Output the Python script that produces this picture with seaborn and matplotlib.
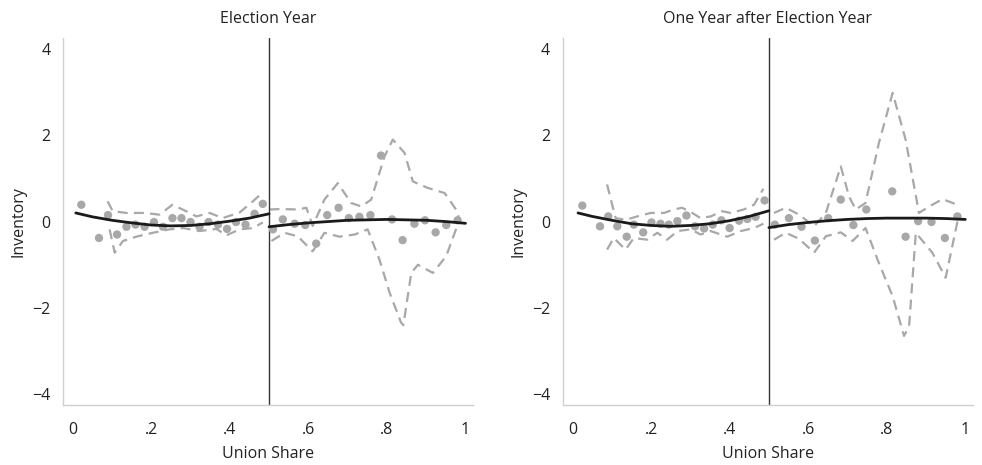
import numpy as np
import pandas as pd
import matplotlib
matplotlib.use('Agg')
import matplotlib.pyplot as plt
import seaborn as sns

sns.set_style("white")
plt.rcParams['font.family'] = ['Open Sans', 'DejaVu Sans']
plt.rcParams['axes.unicode_minus'] = True

# ---- Panel 1: Election Year ----
e_bin_x_lo = [0.022, 0.067, 0.09, 0.113, 0.137, 0.16, 0.183, 0.207, 0.23, 0.254,
              0.277, 0.30, 0.323, 0.346, 0.37, 0.393, 0.416, 0.44, 0.463, 0.484]
e_bin_y_lo = [0.39, -0.38, 0.15, -0.30, -0.12, -0.07, -0.12, -0.01, -0.12, 0.08,
              0.08, -0.01, -0.12, -0.01, -0.07, -0.17, -0.01, -0.07, 0.18, 0.41]
e_bin_x_hi = [0.51, 0.535, 0.565, 0.592, 0.62, 0.648, 0.677, 0.703, 0.73, 0.758,
              0.785, 0.813, 0.84, 0.87, 0.897, 0.924, 0.951, 0.98]
e_bin_y_hi = [-0.18, 0.05, -0.05, -0.08, -0.51, 0.15, 0.32, 0.08, 0.11, 0.15,
              1.53, 0.05, -0.43, -0.05, 0.03, -0.25, -0.08, 0.03]

e_up_x_lo = [0.089, 0.102, 0.137, 0.183, 0.221, 0.254, 0.289, 0.315, 0.349, 0.382, 0.425, 0.459, 0.484]
e_up_y_lo = [0.47, 0.24, 0.20, 0.20, 0.16, 0.39, 0.24, 0.12, 0.20, 0.08, 0.21, 0.47, 0.68]
e_dn_x_lo = [0.094, 0.107, 0.128, 0.162, 0.204, 0.247, 0.281, 0.323, 0.366, 0.391, 0.425, 0.459, 0.484]
e_dn_y_lo = [-0.18, -0.72, -0.45, -0.35, -0.26, -0.18, -0.15, -0.22, -0.17, -0.32, -0.18, -0.15, -0.02]
e_up_x_hi = [0.501, 0.531, 0.573, 0.595, 0.611, 0.641, 0.675, 0.709, 0.735, 0.76, 0.794,
             0.815, 0.845, 0.866, 0.904, 0.947, 0.976, 0.985]
e_up_y_hi = [0.28, 0.29, 0.28, 0.32, -0.10, 0.51, 0.89, 0.43, 0.35, 0.51, 1.51,
             1.90, 1.59, 0.93, 0.78, 0.66, 0.28, 0.05]
e_dn_x_hi = [0.506, 0.539, 0.573, 0.611, 0.641, 0.679, 0.718, 0.751, 0.781, 0.807,
             0.836, 0.842, 0.862, 0.879, 0.917, 0.951, 0.979]
e_dn_y_hi = [-0.45, -0.26, -0.34, -0.69, -0.26, -0.35, -0.30, -0.18, -0.88, -1.65,
             -2.34, -2.40, -1.19, -1.00, -1.19, -0.80, -0.10]

e_fit_x_lo = [0.008, 0.05, 0.1, 0.15, 0.2, 0.25, 0.3, 0.35, 0.4, 0.45, 0.5]
e_fit_y_lo = [0.20, 0.11, 0.03, -0.03, -0.08, -0.10, -0.09, -0.05, 0.01, 0.08, 0.18]
e_fit_x_hi = [0.5, 0.55, 0.6, 0.65, 0.7, 0.75, 0.8, 0.85, 0.9, 0.95, 1.0]
e_fit_y_hi = [-0.12, -0.07, -0.03, 0.00, 0.03, 0.04, 0.05, 0.04, 0.03, 0.00, -0.04]

# ---- Panel 2: One Year after Election Year ----
a_bin_x_lo = [0.025, 0.07, 0.091, 0.114, 0.138, 0.156, 0.18, 0.201, 0.224, 0.245, 0.267,
              0.29, 0.312, 0.335, 0.357, 0.379, 0.40, 0.424, 0.445, 0.466, 0.489]
a_bin_y_lo = [0.37, -0.11, 0.12, -0.11, -0.35, -0.07, -0.25, -0.02, -0.05, -0.07, 0.01,
              0.14, -0.11, -0.16, -0.07, 0.03, -0.15, 0.02, 0.06, 0.11, 0.49]
a_bin_x_hi = [0.515, 0.551, 0.583, 0.617, 0.651, 0.683, 0.715, 0.748, 0.814, 0.848,
              0.88, 0.914, 0.948, 0.98]
a_bin_y_hi = [-0.07, 0.08, -0.12, -0.44, 0.08, 0.51, -0.08, 0.28, 0.70, -0.35,
              0.01, -0.01, -0.38, 0.12]

a_up_x_lo = [0.088, 0.101, 0.11, 0.135, 0.165, 0.199, 0.233, 0.258, 0.279, 0.305,
             0.326, 0.352, 0.381, 0.403, 0.436, 0.462, 0.486]
a_up_y_lo = [0.86, 0.39, 0.08, 0.04, 0.12, 0.20, 0.20, 0.28, 0.32, 0.20,
             0.08, 0.12, 0.24, 0.20, 0.28, 0.39, 0.76]
a_dn_x_lo = [0.088, 0.105, 0.135, 0.156, 0.19, 0.216, 0.241, 0.267, 0.301, 0.326,
             0.352, 0.394, 0.428, 0.462, 0.486]
a_dn_y_lo = [-0.65, -0.38, -0.65, -0.38, -0.42, -0.26, -0.42, -0.22, -0.18, -0.30,
             -0.22, -0.35, -0.22, -0.15, -0.05]
a_up_x_hi = [0.513, 0.543, 0.577, 0.615, 0.645, 0.683, 0.704, 0.721, 0.746, 0.78,
             0.815, 0.848, 0.882, 0.908, 0.942, 0.98]
a_up_y_hi = [0.20, 0.32, 0.16, -0.11, 0.20, 1.28, 0.58, 0.28, 0.43, 1.82,
             2.98, 1.90, 0.20, 0.35, 0.52, 0.39]
a_dn_x_hi = [0.513, 0.543, 0.577, 0.615, 0.645, 0.683, 0.713, 0.746, 0.78, 0.815,
             0.844, 0.857, 0.874, 0.916, 0.95, 0.98]
a_dn_y_hi = [-0.42, -0.26, -0.40, -0.72, -0.34, -0.25, -0.45, -0.15, -0.96, -1.73,
             -2.65, -2.42, -0.26, -0.72, -1.30, 0.00]

a_fit_x_lo = [0.014, 0.05, 0.1, 0.15, 0.2, 0.25, 0.3, 0.35, 0.4, 0.45, 0.5]
a_fit_y_lo = [0.20, 0.12, 0.03, -0.05, -0.09, -0.11, -0.09, -0.05, 0.02, 0.12, 0.25]
a_fit_x_hi = [0.5, 0.55, 0.6, 0.65, 0.7, 0.75, 0.8, 0.85, 0.9, 0.95, 1.0]
a_fit_y_hi = [-0.14, -0.07, -0.02, 0.02, 0.05, 0.07, 0.08, 0.08, 0.08, 0.07, 0.05]

titles = ['Election Year', 'One Year after Election Year']
x_ticks = [0, 0.2, 0.4, 0.6, 0.8, 1]
x_tick_labels = ['0', '.2', '.4', '.6', '.8', '1']
y_ticks = [-4, -2, 0, 2, 4]
y_tick_labels = ['\u22124', '\u22122', '0', '2', '4']

panels = [
    dict(bins=[(e_bin_x_lo, e_bin_y_lo), (e_bin_x_hi, e_bin_y_hi)],
         ci=[(e_up_x_lo, e_up_y_lo), (e_dn_x_lo, e_dn_y_lo), (e_up_x_hi, e_up_y_hi), (e_dn_x_hi, e_dn_y_hi)],
         fit=[(e_fit_x_lo, e_fit_y_lo), (e_fit_x_hi, e_fit_y_hi)]),
    dict(bins=[(a_bin_x_lo, a_bin_y_lo), (a_bin_x_hi, a_bin_y_hi)],
         ci=[(a_up_x_lo, a_up_y_lo), (a_dn_x_lo, a_dn_y_lo), (a_up_x_hi, a_up_y_hi), (a_dn_x_hi, a_dn_y_hi)],
         fit=[(a_fit_x_lo, a_fit_y_lo), (a_fit_x_hi, a_fit_y_hi)]),
]

grey = '#a8a8a8'
txt = '#222222'
fig = plt.figure(figsize=(9.82, 4.65), dpi=100)
lefts = [0.064, 0.573]

for i, p in enumerate(panels):
    ax = fig.add_axes([lefts[i], 0.129, 0.418, 0.789])
    for xs, ys in p['ci']:
        df = pd.DataFrame({'x': xs, 'y': ys})
        sns.lineplot(data=df, x='x', y='y', ax=ax, color=grey, lw=1.6,
                     linestyle=(0, (4.5, 2.8)), estimator=None, sort=False)
    for xs, ys in p['bins']:
        df = pd.DataFrame({'x': xs, 'y': ys})
        sns.scatterplot(data=df, x='x', y='y', ax=ax, color=grey, s=36,
                        edgecolor='none', zorder=3)
    for xs, ys in p['fit']:
        df = pd.DataFrame({'x': xs, 'y': ys})
        sns.lineplot(data=df, x='x', y='y', ax=ax, color='#1a1a1a', lw=2.0,
                     estimator=None, sort=False, zorder=4)
    ax.axvline(0.5, color='#333333', lw=1.0)
    ax.set_xlim(-0.025, 1.02)
    ax.set_ylim(-4.25, 4.25)
    ax.set_xticks(x_ticks)
    ax.set_xticklabels(x_tick_labels)
    ax.set_yticks(y_ticks)
    ax.set_yticklabels(y_tick_labels)
    ax.tick_params(length=0, labelsize=11.5, colors=txt)
    ax.tick_params(axis='x', pad=12)
    ax.tick_params(axis='y', pad=9)
    ax.set_xlabel('Union Share', fontsize=11.5, color=txt, labelpad=6)
    ax.set_ylabel('Inventory', fontsize=11.5, color=txt, labelpad=4)
    ax.set_title(titles[i], fontsize=11.5, color=txt, pad=11)
    sns.despine(ax=ax)
    for s in ['left', 'bottom']:
        ax.spines[s].set_color('#d0d0d0')
        ax.spines[s].set_linewidth(1.0)

fig.savefig('out.png', dpi=100)
